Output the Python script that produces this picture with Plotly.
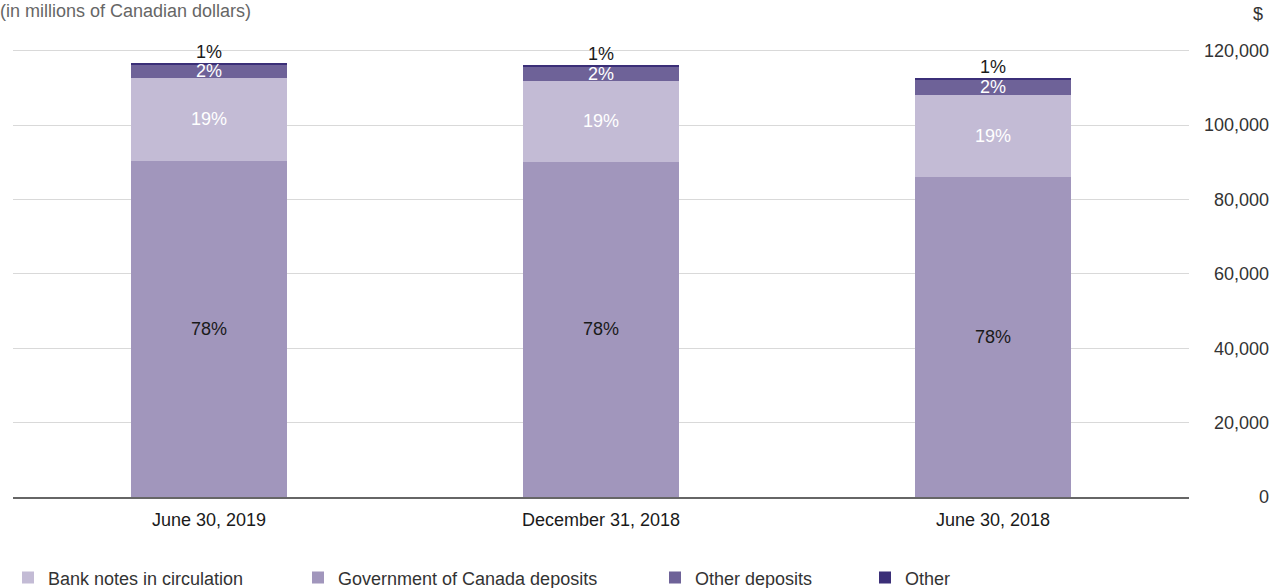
import plotly.graph_objects as go

categories = ["June 30, 2019", "December 31, 2018", "June 30, 2018"]
seg_bottom = [90400, 90100, 86100]
seg_second = [22300, 21800, 22050]
seg_third = [3500, 3700, 4050]
seg_top = [400, 400, 400]

labels_bottom = ["78%", "78%", "78%"]
labels_second = ["19%", "19%", "19%"]
labels_third = ["2%", "2%", "2%"]
labels_top = ["1%", "1%", "1%"]

names = ["Government of Canada deposits", "Bank notes in circulation", "Other deposits", "Other"]
colors = ["#A196BC", "#C3BBD5", "#6E6298", "#3B2F78"]
legend_ids = ["legend2", "legend", "legend3", "legend4"]
text_colors = ["#1a1a1a", "#ffffff", "#ffffff", "#1a1a1a"]

series = [seg_bottom, seg_second, seg_third, seg_top]
series_labels = [labels_bottom, labels_second, labels_third, labels_top]

FONT = "Liberation Sans, Arial, Helvetica, sans-serif"

fig = go.Figure()
for vals, name, col, lg in zip(series, names, colors, legend_ids):
    fig.add_trace(go.Bar(
        x=categories, y=vals, name=name, marker=dict(color=col, line=dict(width=0)),
        legend=lg, hoverinfo="skip",
    ))

annotations = []
for i, cat in enumerate(categories):
    base = 0
    for j, (vals, labs) in enumerate(zip(series, series_labels)):
        v = vals[i]
        if j < 3:
            annotations.append(dict(x=cat, y=base + v / 2, text=labs[i], showarrow=False,
                                    xref="x", yref="y", yanchor="middle",
                                    font=dict(family=FONT, size=18, color=text_colors[j])))
        else:
            annotations.append(dict(x=cat, y=base + v, text=labs[i], showarrow=False,
                                    xref="x", yref="y", yanchor="bottom", yshift=-1,
                                    font=dict(family=FONT, size=18, color=text_colors[j])))
        base += v

annotations.append(dict(x=-0.012, y=1.046, xref="paper", yref="paper", xanchor="left",
                        yanchor="middle", showarrow=False, text="(in millions of Canadian dollars)",
                        font=dict(family=FONT, size=18, color="#666666")))
annotations.append(dict(x=0.997, y=1.039, xref="paper", yref="paper", xanchor="right",
                        yanchor="middle", showarrow=False, text="$",
                        font=dict(family=FONT, size=18, color="#333333")))

paper_w = 1271 - 13 - 2
legend_px = {"legend": 8, "legend2": 298, "legend3": 655, "legend4": 865}
legend_cfg = {}
for lg, px in legend_px.items():
    legend_cfg[lg] = dict(x=(px - 13) / paper_w, y=-0.174, xanchor="left", yanchor="middle",
                          orientation="h", font=dict(family=FONT, size=18, color="#333333"),
                          bgcolor="rgba(0,0,0,0)", itemclick=False, itemdoubleclick=False)

fig.update_layout(
    width=1271, height=588,
    margin=dict(l=13, r=2, t=32, b=91, autoexpand=False),
    barmode="stack", bargap=0.6,
    plot_bgcolor="white", paper_bgcolor="white",
    font=dict(family=FONT, size=18, color="#333333"),
    showlegend=True,
    annotations=annotations,
    xaxis=dict(domain=[0, (1189 - 13) / paper_w], showline=True, linecolor="#666666", linewidth=1.5,
               ticks="", tickfont=dict(family=FONT, size=18, color="#1a1a1a"),
               ticklabelstandoff=6, fixedrange=True, automargin=False),
    yaxis=dict(range=[0, 125000], tickvals=[0, 20000, 40000, 60000, 80000, 100000, 120000],
               tickformat=",d", anchor="free", position=1, side="left",
               showgrid=True, gridcolor="#d9d9d9", gridwidth=1, zeroline=False,
               ticks="", showline=False, tickfont=dict(family=FONT, size=18, color="#333333"),
               fixedrange=True, automargin=False),
    **legend_cfg,
)

fig.write_html("out.html", config={"displayModeBar": False},
               post_script="document.body.style.margin='0px';document.body.style.overflow='hidden';")
